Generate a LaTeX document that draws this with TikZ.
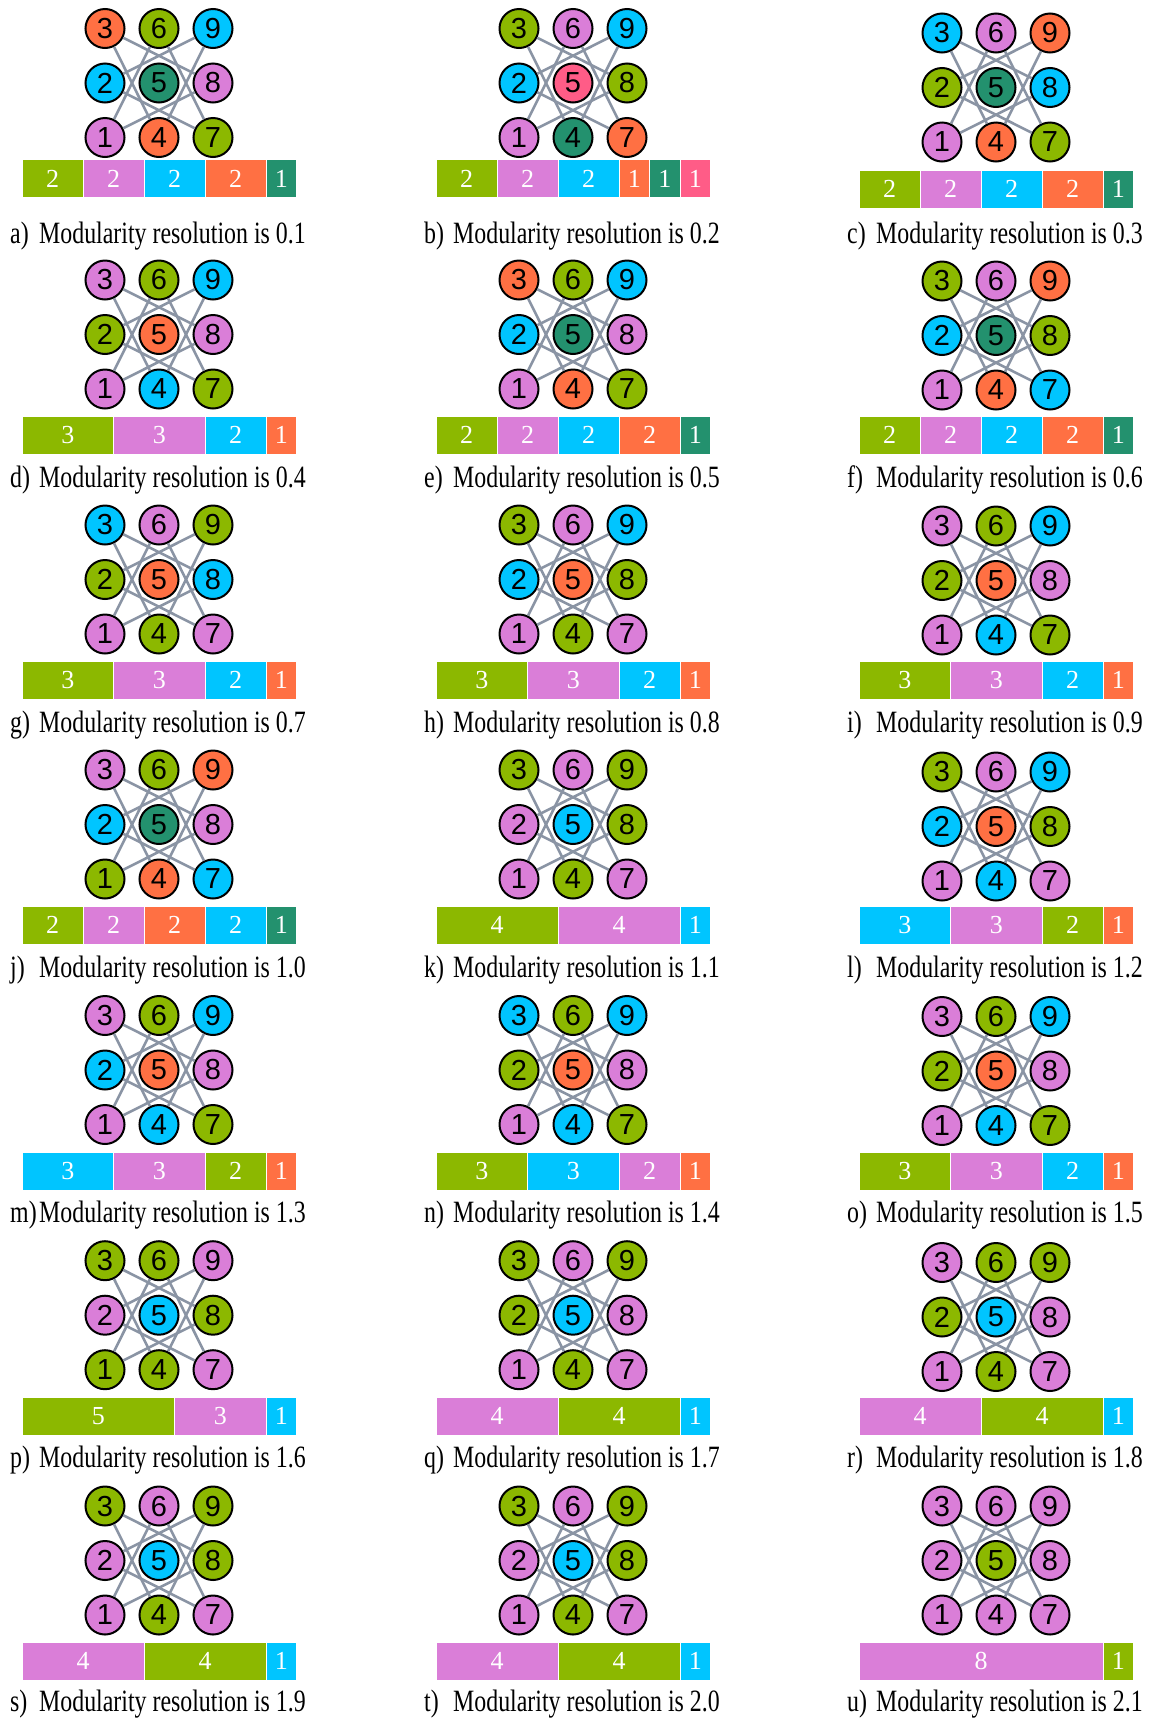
\documentclass[tikz,border=0pt]{standalone}
\usepackage{fontspec}
\setmainfont{Liberation Serif}
\newfontfamily\fonteno{Liberation Sans}
\usepackage{graphicx}
\usepackage{xcolor}
\usepackage{tikz}
\usetikzlibrary{positioning}
\definecolor{verde}{HTML}{8CB800}
\definecolor{rosa}{HTML}{DA7ED8}
\definecolor{ciano}{HTML}{00C5FF}
\definecolor{laranja}{HTML}{FF7043}
\definecolor{petroleo}{HTML}{23916E}
\definecolor{vermelho}{HTML}{FF5C87}
\definecolor{cinza}{HTML}{8A94A4}
\tikzset{
    vert/.style   = {circle, draw=black, line width=2pt, minimum size=39pt, inner sep=0pt,
                     font=\fonteno\fontsize{29}{29}\selectfont},
    seg/.style    = {rectangle, draw=white, line width=0.8pt, minimum height=38pt, inner sep=0pt,
                     outer sep=0pt, anchor=west, text=white, font=\fontsize{26}{26}\selectfont},
    aresta/.style = {line width=2.6pt, cinza},
    rot/.style    = {anchor=base west, inner sep=0pt, font=\fontsize{31}{36}\selectfont},
}
% #1 letra, #2 x, #3 y, #4 y da barra, #5 y da legenda, #6 cores 1..9, #7 barra, #8 valor
\newcommand{\painel}[8]{%
    % vertices
    \foreach \cor [count=\k] in {#6} {
        \pgfmathsetmacro\cx{#2+54*int((\k-1)/3)}
        \pgfmathsetmacro\cy{#3+54.5*(2-mod(\k-1,3))}
        \node[vert, fill=\cor] (#1\k) at (\cx,\cy) {\k};
    }
    % arestas
    \foreach \u/\v in {3/8,3/4,9/2,9/4,1/6,1/8,7/2,7/6}
        \draw[aresta] (#1\u) -- (#1\v);
    % barra
    \node[inner sep=0pt, outer sep=0pt, minimum size=0pt] (#1s0) at (#2-83,#4+19) {};
    \foreach \cor/\n [count=\k] in {#7} {
        \pgfmathtruncatemacro\ant{\k-1}
        \node[seg, fill=\cor, minimum width=\n*30.5] (#1s\k) at (#1s\ant.east) {\n};
    }
    % legenda
    \node[rot] (#1l) at (#2-95,#5) {\scalebox{0.77}[1]{#1)}};
    \node[rot] (#1t) at (#2-66,#5) {\scalebox{0.77}[1]{Modularity resolution is #8}};
}

\begin{document}
\begin{tikzpicture}[x=1pt, y=-1pt]
    \useasboundingbox (0,0) rectangle (1155,1722);
    % linha 1
    \painel{a}{105}{28.5}{159.5}{243}{rosa,ciano,laranja,laranja,petroleo,verde,verde,rosa,ciano}{verde/2,rosa/2,ciano/2,laranja/2,petroleo/1}{0.1}
    \painel{b}{519}{28.5}{159.5}{243}{rosa,ciano,verde,petroleo,vermelho,rosa,laranja,verde,ciano}{verde/2,rosa/2,ciano/2,laranja/1,petroleo/1,vermelho/1}{0.2}
    \painel{c}{942}{33}{170}{243}{rosa,verde,ciano,laranja,petroleo,rosa,verde,ciano,laranja}{verde/2,rosa/2,ciano/2,laranja/2,petroleo/1}{0.3}
    % linha 2
    \painel{d}{105}{280}{416}{487.8}{rosa,verde,rosa,ciano,laranja,verde,verde,rosa,ciano}{verde/3,rosa/3,ciano/2,laranja/1}{0.4}
    \painel{e}{519}{280}{416}{487.8}{rosa,ciano,laranja,laranja,petroleo,verde,verde,rosa,ciano}{verde/2,rosa/2,ciano/2,laranja/2,petroleo/1}{0.5}
    \painel{f}{942}{281}{416}{487.8}{rosa,ciano,verde,laranja,petroleo,rosa,ciano,verde,laranja}{verde/2,rosa/2,ciano/2,laranja/2,petroleo/1}{0.6}
    % linha 3
    \painel{g}{105}{525}{661}{732.6}{rosa,verde,ciano,verde,laranja,rosa,rosa,ciano,verde}{verde/3,rosa/3,ciano/2,laranja/1}{0.7}
    \painel{h}{519}{525}{661}{732.6}{rosa,ciano,verde,verde,laranja,rosa,rosa,verde,ciano}{verde/3,rosa/3,ciano/2,laranja/1}{0.8}
    \painel{i}{942}{526}{661}{732.6}{rosa,verde,rosa,ciano,laranja,verde,verde,rosa,ciano}{verde/3,rosa/3,ciano/2,laranja/1}{0.9}
    % linha 4
    \painel{j}{105}{770}{906}{977.4}{verde,ciano,rosa,laranja,petroleo,verde,ciano,rosa,laranja}{verde/2,rosa/2,laranja/2,ciano/2,petroleo/1}{1.0}
    \painel{k}{519}{770}{906}{977.4}{rosa,rosa,verde,verde,ciano,rosa,rosa,verde,verde}{verde/4,rosa/4,ciano/1}{1.1}
    \painel{l}{942}{772}{906}{977.4}{rosa,ciano,verde,ciano,laranja,rosa,rosa,verde,ciano}{ciano/3,rosa/3,verde/2,laranja/1}{1.2}
    % linha 5
    \painel{m}{105}{1015.5}{1152}{1222.2}{rosa,ciano,rosa,ciano,laranja,verde,verde,rosa,ciano}{ciano/3,rosa/3,verde/2,laranja/1}{1.3}
    \painel{n}{519}{1015.5}{1152}{1222.2}{rosa,verde,ciano,ciano,laranja,verde,verde,rosa,ciano}{verde/3,ciano/3,rosa/2,laranja/1}{1.4}
    \painel{o}{942}{1016.5}{1152}{1222.2}{rosa,verde,rosa,ciano,laranja,verde,verde,rosa,ciano}{verde/3,rosa/3,ciano/2,laranja/1}{1.5}
    % linha 6
    \painel{p}{105}{1260.7}{1397}{1467}{verde,rosa,verde,verde,ciano,verde,rosa,verde,rosa}{verde/5,rosa/3,ciano/1}{1.6}
    \painel{q}{519}{1260.7}{1397}{1467}{rosa,verde,verde,verde,ciano,rosa,rosa,rosa,verde}{rosa/4,verde/4,ciano/1}{1.7}
    \painel{r}{942}{1262.5}{1397}{1467}{rosa,verde,rosa,verde,ciano,verde,rosa,rosa,verde}{rosa/4,verde/4,ciano/1}{1.8}
    % linha 7
    \painel{s}{105}{1506}{1642}{1711.8}{rosa,rosa,verde,verde,ciano,rosa,rosa,verde,verde}{rosa/4,verde/4,ciano/1}{1.9}
    \painel{t}{519}{1506}{1642}{1711.8}{rosa,rosa,verde,verde,ciano,rosa,rosa,verde,verde}{rosa/4,verde/4,ciano/1}{2.0}
    \painel{u}{942}{1506}{1642}{1711.8}{rosa,rosa,rosa,rosa,verde,rosa,rosa,rosa,rosa}{rosa/8,verde/1}{2.1}
\end{tikzpicture}
\end{document}
